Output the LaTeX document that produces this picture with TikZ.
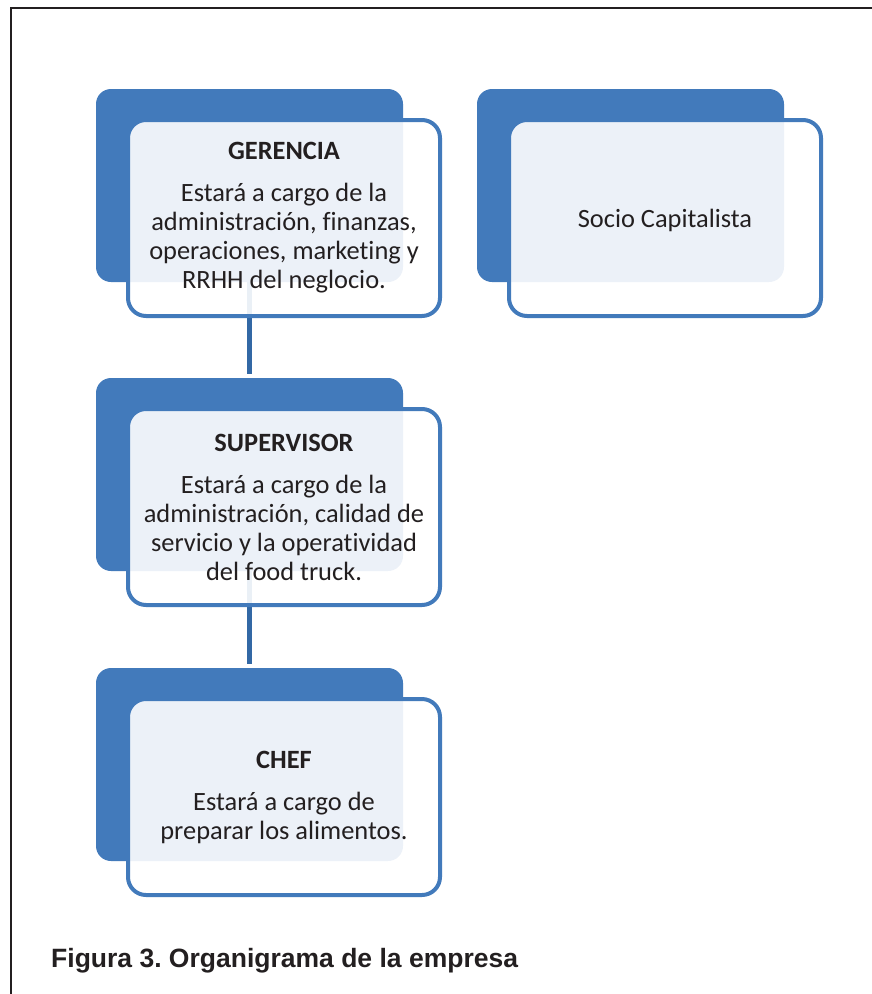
\documentclass[tikz,border=0pt]{standalone}
\usepackage{fontspec}
\setmainfont{Carlito}[Ligatures=NoCommon]
\newfontfamily\captionfont{Liberation Sans}
\usetikzlibrary{positioning}
\definecolor{orgblue}{RGB}{66,122,187}
\definecolor{orgline}{RGB}{50,104,165}
\definecolor{orgtext}{RGB}{35,31,32}

\begin{document}
\frenchspacing
\begin{tikzpicture}[
    x=1pt, y=-1pt,
    back/.style={rectangle, rounded corners=15pt, fill=orgblue, minimum width=307pt, minimum height=193pt, inner sep=0pt},
    front/.style={rectangle, rounded corners=18pt, draw=orgblue, line width=4pt, fill=white, fill opacity=0.9, text opacity=1, text=orgtext, minimum width=312pt, minimum height=196pt, inner sep=0pt, align=center, font=\fontsize{26.4}{29}\selectfont, execute at begin node={\rule{0pt}{24pt}}},
    link/.style={draw=orgline, line width=5pt, shorten >=4pt}
]
    \useasboundingbox (0,0) rectangle (872,994);

    % Frame
    \draw[line width=2pt, orgtext] (11,994) -- (11,8) -- (872,8);

    % Back boxes
    \node[back] (gerB) at (249.5,185.5) {};
    \node[back] (socB) at (630.5,185.5) {};
    \node[back] (supB) at (249.5,474.5) {};
    \node[back] (chefB) at (249.5,764.5) {};

    % Links
    \draw[link] (gerB.south) -- (supB.north);
    \draw[link] (supB.south) -- (chefB.north);

    % Front boxes
    \node[front] (ger) at ([shift={(34.5,32.5)}]gerB.center)
        {\textbf{GERENCIA}\\[13pt]Estará a cargo de la\\administración, finanzas,\\operaciones, marketing y\\RRHH del neglocio.};
    \node[front] (soc) at ([shift={(34.5,32.5)}]socB.center) {Socio Capitalista};
    \node[front] (sup) at ([shift={(34.5,32.5)}]supB.center)
        {\textbf{SUPERVISOR}\\[13pt]Estará a cargo de la\\administración, calidad de\\servicio y la operatividad\\del food truck.};
    \node[front] (chef) at ([shift={(34.5,32.5)}]chefB.center)
        {\textbf{CHEF}\\[13pt]Estará a cargo de\\preparar los alimentos.};

    % Caption
    \node[anchor=base west, inner sep=0pt, text=orgtext, font=\captionfont\bfseries\fontsize{26.5}{30}\selectfont] (cap) at (51,967) {Figura 3. Organigrama de la empresa};
\end{tikzpicture}
\end{document}
